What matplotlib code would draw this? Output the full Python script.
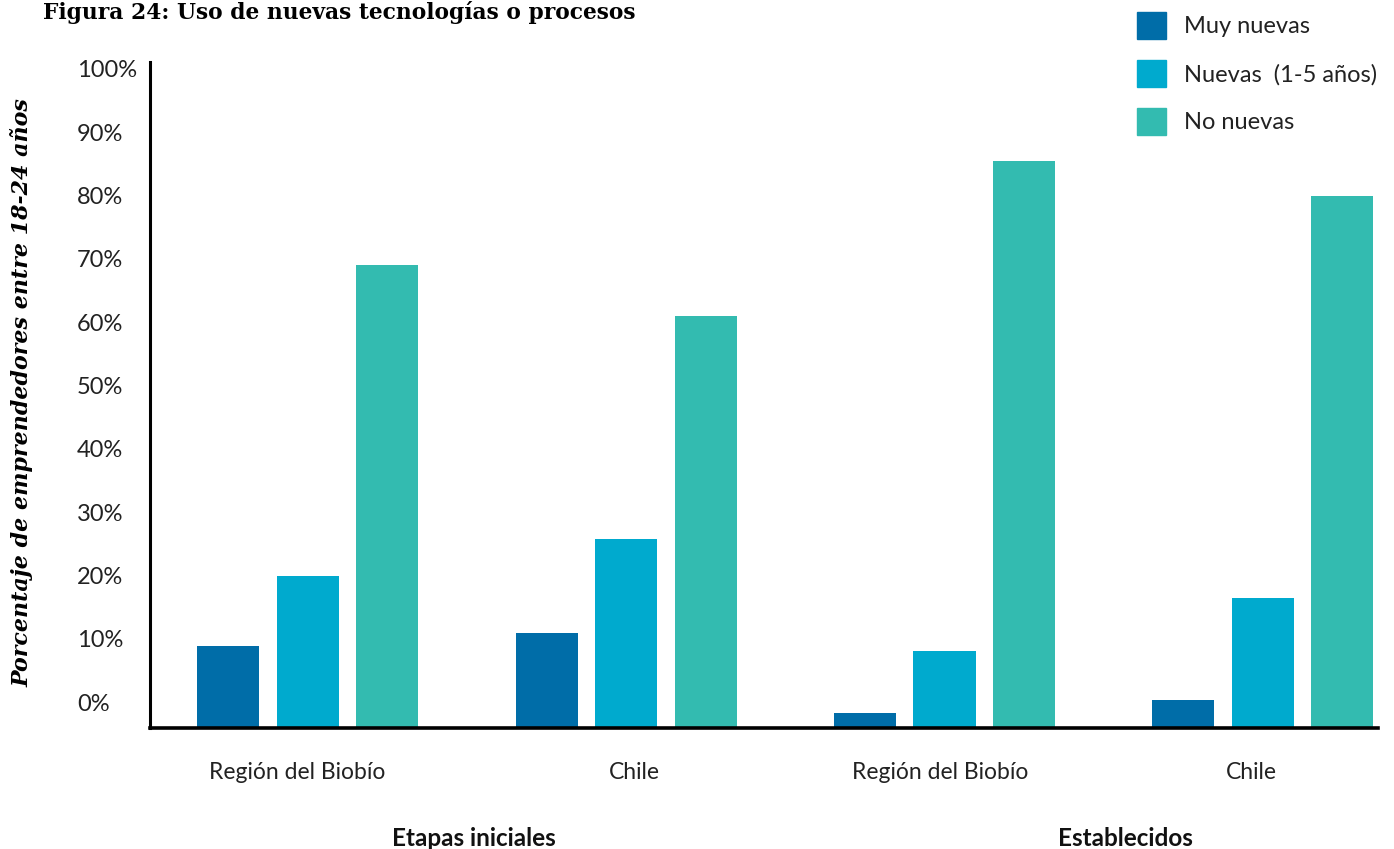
import matplotlib.pyplot as plt
from matplotlib.patches import Patch
import numpy as np

grupos = ["Etapas iniciales", "Establecidos"]
categorias = ["Región del Biobío", "Chile", "Región del Biobío", "Chile"]
series = ["Muy nuevas", "Nuevas  (1-5 años)", "No nuevas"]
muy_nuevas = [12.5, 14.5, 2.3, 4.3]
nuevas = [23.1, 28.8, 11.7, 19.8]
no_nuevas = [70.5, 62.7, 86.3, 81.0]
etiquetas_y = ["0%", "10%", "20%", "30%", "40%", "50%", "60%", "70%", "80%", "90%", "100%"]

colores = ["#006DA8", "#00AACE", "#33BBB0"]

W, H = 1394, 849
fig = plt.figure(figsize=(W / 100, H / 100), dpi=100)
pos = [150 / W, 1 - 728 / H, (1378 - 150) / W, (728 - 62) / H]
ax = fig.add_axes(pos)

x = np.arange(len(categorias))
desp = 0.25
ancho = 0.195
for k, (vals, col) in enumerate(zip([muy_nuevas, nuevas, no_nuevas], colores)):
    ax.bar(x + (k - 1) * desp, vals, width=ancho, color=col)

ax.set_xlim(-0.496, 3.362)
ax.set_ylim(0, 101.4)
for s in ["top", "right"]:
    ax.spines[s].set_visible(False)
ax.spines["left"].set_linewidth(2.2)
ax.spines["bottom"].set_linewidth(2.6)
ax.set_xticks([])
ax.set_yticks([])

# eje de etiquetas (en el original las etiquetas no coinciden con la base)
axl = fig.add_axes(pos, frameon=False)
axl.set_ylim(-4.1, 101.1)
axl.set_xticks([])
axl.set_yticks(np.arange(0, 101, 10))
axl.set_yticklabels(etiquetas_y, fontfamily="Lato", fontsize=17, color="#222222", ha="left")
axl.tick_params(axis="y", length=0, pad=52.5)

# pequeños desplazamientos de las etiquetas de categoría como en el original
ajuste = [-0.035, 0.025, -0.013, -0.035]
for xi, cat, d in zip(x, categorias, ajuste):
    ax.text(xi + d, -6.8, cat, ha="center", va="center",
            fontfamily="Lato", fontsize=16.5, color="#222222")

ax.text(0.52, -16.8, grupos[0], ha="center", va="center", fontfamily="Lato",
        fontweight="bold", fontsize=17.5, color="#111111")
ax.text(2.57, -16.8, grupos[1], ha="center", va="center", fontfamily="Lato",
        fontweight="bold", fontsize=17.5, color="#111111")

fig.text(43 / W, 1 - 12 / H, "Figura 24: Uso de nuevas tecnologías o procesos",
         fontfamily="DejaVu Serif", fontweight="bold", fontsize=15.7, va="center", ha="left")
fig.text(22 / W, 1 - 393 / H, "Porcentaje de emprendedores entre 18-24 años",
         fontfamily="DejaVu Serif", fontweight="bold", style="italic", fontsize=15.9,
         rotation=90, va="center", ha="center")

handles = [Patch(color=c) for c in colores]
fig.legend(handles, series, loc="upper left", bbox_to_anchor=(1130 / W, 1 - 5 / H),
           frameon=False, prop={"family": "Lato", "size": 17}, handlelength=1.23,
           handleheight=1.37, handletextpad=0.75, labelspacing=0.89, borderaxespad=0,
           borderpad=0.3, labelcolor="#222222")

fig.savefig("out.png", dpi=100)
